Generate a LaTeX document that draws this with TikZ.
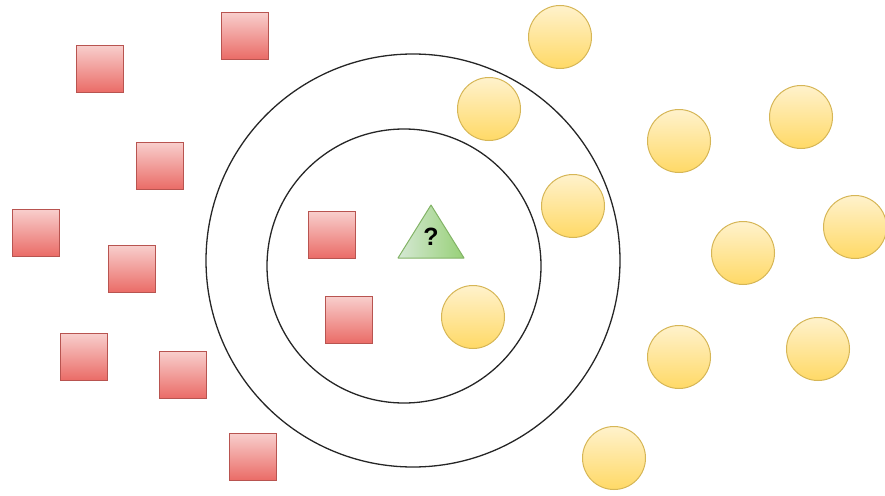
\documentclass[tikz,border=0pt]{standalone}
\usepackage{fontspec}
\setmainfont{Liberation Sans}
\definecolor{sqtop}{HTML}{F8CECC}
\definecolor{sqbot}{HTML}{EA6B66}
\definecolor{sqline}{HTML}{B85450}
\definecolor{cctop}{HTML}{FFF2CC}
\definecolor{ccbot}{HTML}{FFD966}
\definecolor{ccline}{HTML}{D6B656}
\definecolor{trl}{HTML}{D5E8D4}
\definecolor{trr}{HTML}{97D077}
\definecolor{trline}{HTML}{82B366}
\begin{document}
\begin{tikzpicture}[x=1pt,y=-1pt,
  sq/.style={rectangle,minimum width=47pt,minimum height=47pt,inner sep=0pt,draw=sqline,line width=1pt,top color=sqtop,bottom color=sqbot},
  cc/.style={circle,minimum size=63pt,inner sep=0pt,draw=ccline,line width=1pt,top color=cctop,bottom color=ccbot},
  ring/.style={draw=black!85,line width=1.3pt}]
\useasboundingbox (0,0) rectangle (885,495);
\draw[ring] (413,260.5) ellipse [x radius=207,y radius=206.5];
\draw[ring] (404,266) circle [radius=137];
% squares
\node[sq] (s1) at (245,36) {};
\node[sq] (s2) at (100,69) {};
\node[sq] (s3) at (160,166) {};
\node[sq] (s4) at (36,233) {};
\node[sq] (s5) at (132,269) {};
\node[sq] (s6) at (84,357) {};
\node[sq] (s7) at (183,375) {};
\node[sq] (s8) at (253,457) {};
\node[sq] (s9) at (332,235) {};
\node[sq] (s10) at (349,320) {};
% circles
\node[cc] (c1) at (560,37) {};
\node[cc] (c2) at (489,109) {};
\node[cc] (c3) at (679,141) {};
\node[cc] (c4) at (801,117) {};
\node[cc] (c5) at (573,206) {};
\node[cc] (c6) at (743,253) {};
\node[cc] (c7) at (855,227) {};
\node[cc] (c8) at (473,317) {};
\node[cc] (c9) at (679,357) {};
\node[cc] (c10) at (818,349) {};
\node[cc] (c11) at (614,458) {};
% triangle
\coordinate (ta) at (431,205);
\coordinate (tl) at (398,258);
\coordinate (tr) at (464,258);
\draw[draw=trline,line width=1pt,left color=trl,right color=trr,line join=round] (ta) -- (tl) -- (tr) -- cycle;
\node[font=\bfseries\fontsize{25}{25}\selectfont,inner sep=0pt] (q) at (431,237) {?};
\end{tikzpicture}
\end{document}
